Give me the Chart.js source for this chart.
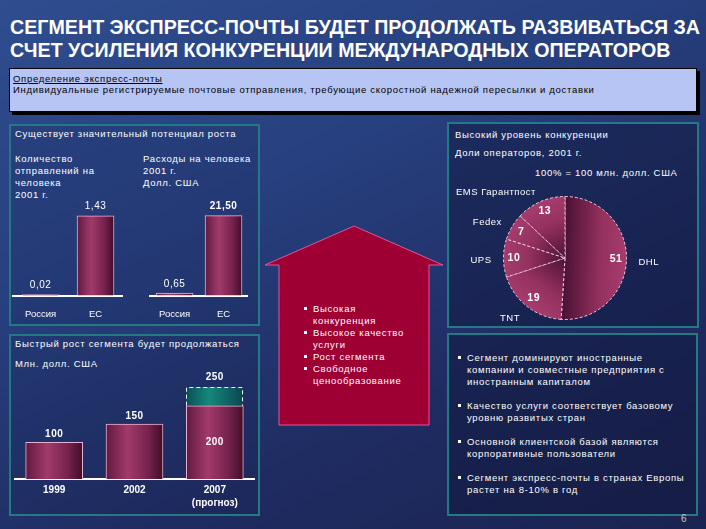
<!DOCTYPE html>
<html>
<head>
<meta charset="utf-8">
<script src="https://cdn.jsdelivr.net/npm/chart.js@4.4.1/dist/chart.umd.min.js"></script>
<style>
  body {
    margin: 0;
    width: 706px;
    height: 529px;
    overflow: hidden;
    position: relative;
    background: linear-gradient(155deg, #2f4d8f 0%, #27407f 35%, #1f2c62 70%, #1b2350 100%);
    font-family: "Liberation Sans", Arial, sans-serif;
    color: #fff;
  }
  .abs { position: absolute; }
  .txt { font-size: 9.5px; line-height: 12px; letter-spacing: 0.7px; white-space: nowrap; }
  .title {
    left: 10px; top: 16px;
    font-size: 20px; line-height: 23px; font-weight: bold;
    white-space: nowrap; transform-origin: 0 0;
  }
  .defbox {
    left: 9px; top: 68px; width: 686px; height: 42px;
    background: #b7c5f5; border: 1px solid #000;
    box-shadow: 3px 3px 0 #000; color: #000;
  }
  .panel { border: 2px solid #247a82; box-sizing: border-box; }
  .panel.left { background: rgba(20, 30, 70, 0.15); }
  .panel.right { background: rgba(16, 22, 58, 0.45); }
  .bul { position: relative; padding-left: 9px; }
  .bul::before {
    content: ""; position: absolute; left: 0; top: 4px;
    width: 3px; height: 3px; background: #fff;
  }
  canvas { position: absolute; }
</style>
</head>
<body>

<svg class="abs" style="left:0;top:0" width="706" height="529">
  <polygon points="354,226 443,265 429,265 429,425 279,425 279,265 265,265"
           fill="#9e0034" stroke="#e0559a" stroke-width="1"/>
</svg>

<div class="abs title" id="title">СЕГМЕНТ ЭКСПРЕСС-ПОЧТЫ БУДЕТ ПРОДОЛЖАТЬ РАЗВИВАТЬСЯ ЗА<br>СЧЕТ УСИЛЕНИЯ КОНКУРЕНЦИИ МЕЖДУНАРОДНЫХ ОПЕРАТОРОВ</div>

<div class="abs defbox">
  <div class="abs txt" style="left:3px;top:4px;text-decoration:underline">Определение экспресс-почты</div>
  <div class="abs txt" style="left:3px;top:15px">Индивидуальные регистрируемые почтовые отправления, требующие скоростной надежной пересылки и доставки</div>
</div>

<div class="abs panel left" style="left:9px;top:124px;width:251px;height:202px"></div>
<div class="abs panel left" style="left:9px;top:334px;width:251px;height:182px"></div>
<div class="abs panel right" style="left:447px;top:122px;width:252px;height:206px"></div>
<div class="abs panel right" style="left:447px;top:333px;width:251px;height:183px"></div>

<div class="abs txt" style="left:15px;top:128px">Существует значительный потенциал роста</div>
<div class="abs txt" style="left:15px;top:153px">Количество<br>отправлений на<br>человека<br>2001 г.</div>
<div class="abs txt" style="left:143px;top:153px">Расходы на человека<br>2001 г.<br>Долл. США</div>

<div class="abs txt" style="left:15px;top:338px">Быстрый рост сегмента будет продолжаться</div>
<div class="abs txt" style="left:15px;top:358px">Млн. долл. США</div>

<div class="abs txt" style="left:304px;top:303px">
  <div class="bul">Высокая<br>конкуренция</div>
  <div class="bul">Высокое качество<br>услуги</div>
  <div class="bul">Рост сегмента</div>
  <div class="bul">Свободное<br>ценообразование</div>
</div>

<div class="abs txt" style="left:455px;top:129px">Высокий уровень конкуренции</div>
<div class="abs txt" style="left:455px;top:147px">Доли операторов, 2001 г.</div>
<div class="abs txt" style="left:535px;top:167px">100% = 100 млн. долл. США</div>

<div class="abs txt" style="left:458px;top:352px"><div class="bul">Сегмент доминируют иностранные<br>компании и совместные предприятия с<br>иностранным капиталом</div></div>
<div class="abs txt" style="left:458px;top:400px"><div class="bul">Качество услуги соответствует базовому<br>уровню развитых стран</div></div>
<div class="abs txt" style="left:458px;top:436px"><div class="bul">Основной клиентской базой являются<br>корпоративные пользователи</div></div>
<div class="abs txt" style="left:458px;top:472px"><div class="bul">Сегмент экспресс-почты в странах Европы<br>растет на 8-10% в год</div></div>

<div class="abs" style="left:681px;top:513px;font-size:10px;color:#c8c8c8">6</div>

<canvas id="shipments" width="111" height="139" style="left:12px;top:194px"></canvas>
<canvas id="spending" width="102" height="139" style="left:146px;top:194px"></canvas>
<canvas id="growth" width="241" height="142" style="left:14px;top:372px"></canvas>
<canvas id="shares" width="240" height="148" style="left:450px;top:184px"></canvas>

<script>
const perCapitaLabels = ['Россия', 'ЕС'];
const shipmentsPerPerson = [0.02, 1.43];
const spendingPerPerson = [0.65, 21.50];

const growthYears = ['1999', '2002', ['2007', '(прогноз)']];
const growthBase = [100, 150, 200];
const growthForecastExtra = [null, null, 50];

const operators = ['DHL', 'TNT', 'UPS', 'Fedex', 'EMS Гарантпост'];
const operatorShares = [51, 19, 10, 7, 13];

const FONT = '"Liberation Sans", Arial, sans-serif';

// squeeze the title so line one fits the slide width
const title = document.getElementById('title');
const titleW = title.getBoundingClientRect().width;
title.style.transform = 'scaleX(' + (690 / titleW) + ')';

Chart.defaults.font.family = FONT;
Chart.defaults.color = '#fff';
Chart.defaults.animation = false;
Chart.defaults.responsive = false;
Chart.defaults.plugins.legend.display = false;
Chart.defaults.plugins.tooltip.enabled = false;

const maroonStops = [[0, '#5e1b40'], [0.38, '#a23a6b'], [0.75, '#74224c'], [1, '#3f0e28']];
const tealStops = [[0, '#0b4f58'], [0.4, '#14897b'], [1, '#0a4550']];

// horizontal "cylinder" shading for each bar
function cylinder(stops) {
  return (c) => {
    const chart = c.chart;
    const xs = chart.scales.x;
    const w = c.dataset.barThickness;
    const cx = xs ? xs.getPixelForValue(c.dataIndex) : NaN;
    if (!isFinite(cx)) return stops[1][1];
    const g = chart.ctx.createLinearGradient(cx - w / 2, 0, cx + w / 2, 0);
    stops.forEach(([o, col]) => g.addColorStop(o, col));
    return g;
  };
}

const fmt = (v) => v.toFixed(2).replace('.', ',');

const barValueLabels = {
  id: 'barValueLabels',
  afterDatasetsDraw(chart, args, opts) {
    const ctx = chart.ctx;
    const meta = chart.getDatasetMeta(0);
    ctx.save();
    ctx.fillStyle = '#fff';
    ctx.textAlign = 'center';
    ctx.textBaseline = 'bottom';
    ctx.letterSpacing = '0.5px';
    meta.data.forEach((el, i) => {
      const v = chart.data.datasets[0].data[i];
      ctx.font = (opts.bold && opts.bold[i] ? 'bold ' : '') + '10px ' + FONT;
      ctx.fillText(fmt(v), el.x, el.y - 4);
    });
    ctx.restore();
  }
};

function perCapitaChart(id, values, yMax, bold) {
  return new Chart(document.getElementById(id), {
    type: 'bar',
    data: {
      labels: perCapitaLabels,
      datasets: [{
        data: values,
        barThickness: 37,
        backgroundColor: cylinder(maroonStops),
        borderColor: '#e8b0d0',
        borderWidth: 1,
        borderSkipped: 'bottom'
      }]
    },
    options: {
      maintainAspectRatio: false,
      layout: { padding: { top: 14 } },
      plugins: { barValueLabels: { bold: bold } },
      scales: {
        x: {
          grid: { display: false, drawTicks: false },
          border: { color: '#fff', width: 2 },
          ticks: { color: '#fff', padding: 13, font: { size: 9.5 } }
        },
        y: { display: false, min: 0, max: yMax }
      }
    },
    plugins: [barValueLabels]
  });
}

perCapitaChart('shipments', shipmentsPerPerson, 1.568, [false, false]);
perCapitaChart('spending', spendingPerPerson, 23.57, [false, true]);

// labels for the growth chart: total above, base inside when a forecast part is stacked on top
const growthLabels = {
  id: 'growthLabels',
  afterDatasetsDraw(chart) {
    const ctx = chart.ctx;
    const base = chart.getDatasetMeta(0).data;
    const extra = chart.getDatasetMeta(1).data;
    ctx.save();
    ctx.fillStyle = '#fff';
    ctx.textAlign = 'center';
    ctx.font = 'bold 10px ' + FONT;
    ctx.letterSpacing = '0.5px';
    growthBase.forEach((v, i) => {
      const add = growthForecastExtra[i];
      const b = base[i];
      if (add) {
        const e = extra[i];
        // dashed outline of the forecast part
        ctx.save();
        ctx.strokeStyle = '#f2f2f2';
        ctx.lineWidth = 1;
        ctx.setLineDash([4, 3]);
        const l = Math.round(e.x - e.width / 2) + 0.5, r = Math.round(e.x + e.width / 2) - 0.5;
        ctx.beginPath();
        ctx.moveTo(l, e.base);
        ctx.lineTo(l, Math.round(e.y) + 0.5);
        ctx.lineTo(r, Math.round(e.y) + 0.5);
        ctx.lineTo(r, e.base);
        ctx.stroke();
        ctx.restore();
        ctx.textBaseline = 'bottom';
        ctx.fillText(String(v + add), e.x, e.y - 5);
        ctx.textBaseline = 'middle';
        ctx.fillText(String(v), b.x, (b.y + b.base) / 2);
      } else {
        ctx.textBaseline = 'bottom';
        ctx.fillText(String(v), b.x, b.y - 3);
      }
    });
    ctx.restore();
  }
};

new Chart(document.getElementById('growth'), {
  type: 'bar',
  data: {
    labels: growthYears,
    datasets: [
      {
        data: growthBase,
        barThickness: 57,
        backgroundColor: cylinder(maroonStops),
        borderColor: '#e8b0d0',
        borderWidth: 1,
        borderSkipped: 'bottom'
      },
      {
        data: growthForecastExtra,
        barThickness: 57,
        backgroundColor: cylinder(tealStops),
        borderWidth: 0
      }
    ]
  },
  options: {
    maintainAspectRatio: false,
    layout: { padding: 0 },
    scales: {
      x: {
        stacked: true,
        grid: { display: false, drawTicks: false },
        border: { color: '#fff', width: 2 },
        ticks: { color: '#fff', padding: 5, font: { size: 10, weight: 'bold', lineHeight: 1.25 } }
      },
      y: { stacked: true, display: false, min: 0, max: 292 }
    }
  },
  plugins: [growthLabels]
});

// pie: each slice shaded from the centre outwards along its middle direction
function sliceFill(c) {
  const chart = c.chart;
  const area = chart.chartArea;
  if (!area) return '#8a2c5a';
  const data = c.dataset.data;
  const total = data.reduce((a, b) => a + b, 0);
  const before = data.slice(0, c.dataIndex).reduce((a, b) => a + b, 0);
  const mid = -Math.PI / 2 + (before + data[c.dataIndex] / 2) / total * Math.PI * 2;
  const cx = (area.left + area.right) / 2, cy = (area.top + area.bottom) / 2;
  const r = Math.min(area.right - area.left, area.bottom - area.top) / 2;
  const g = chart.ctx.createLinearGradient(cx, cy, cx + Math.cos(mid) * r, cy + Math.sin(mid) * r);
  g.addColorStop(0, '#4e1236');
  g.addColorStop(0.6, '#96325f');
  g.addColorStop(1, '#a63d6f');
  return g;
}

const pieLabels = {
  id: 'pieLabels',
  afterDatasetsDraw(chart) {
    const ctx = chart.ctx;
    ctx.save();
    ctx.fillStyle = '#fff';
    ctx.letterSpacing = '0.5px';
    chart.getDatasetMeta(0).data.forEach((el, i) => {
      const mid = (el.startAngle + el.endAngle) / 2;
      const r = el.outerRadius;
      const cos = Math.cos(mid), sin = Math.sin(mid);
      ctx.font = 'bold 10.5px ' + FONT;
      ctx.textAlign = 'center';
      ctx.textBaseline = 'middle';
      ctx.fillText(String(operatorShares[i]), el.x + cos * r * 0.83, el.y + sin * r * 0.83);
      ctx.font = '9.5px ' + FONT;
      ctx.textAlign = cos >= 0 ? 'left' : 'right';
      ctx.fillText(operators[i], el.x + cos * (r + 12), el.y + sin * (r + 12) + 2);
    });
    ctx.restore();
  }
};

new Chart(document.getElementById('shares'), {
  type: 'pie',
  data: {
    labels: operators,
    datasets: [{
      data: operatorShares,
      backgroundColor: sliceFill,
      borderColor: '#f3c6dc',
      borderWidth: 1,
      borderDash: [3, 2]
    }]
  },
  options: {
    maintainAspectRatio: false,
    layout: { padding: { left: 53, right: 63, top: 12, bottom: 12 } }
  },
  plugins: [pieLabels]
});
</script>
</body>
</html>
